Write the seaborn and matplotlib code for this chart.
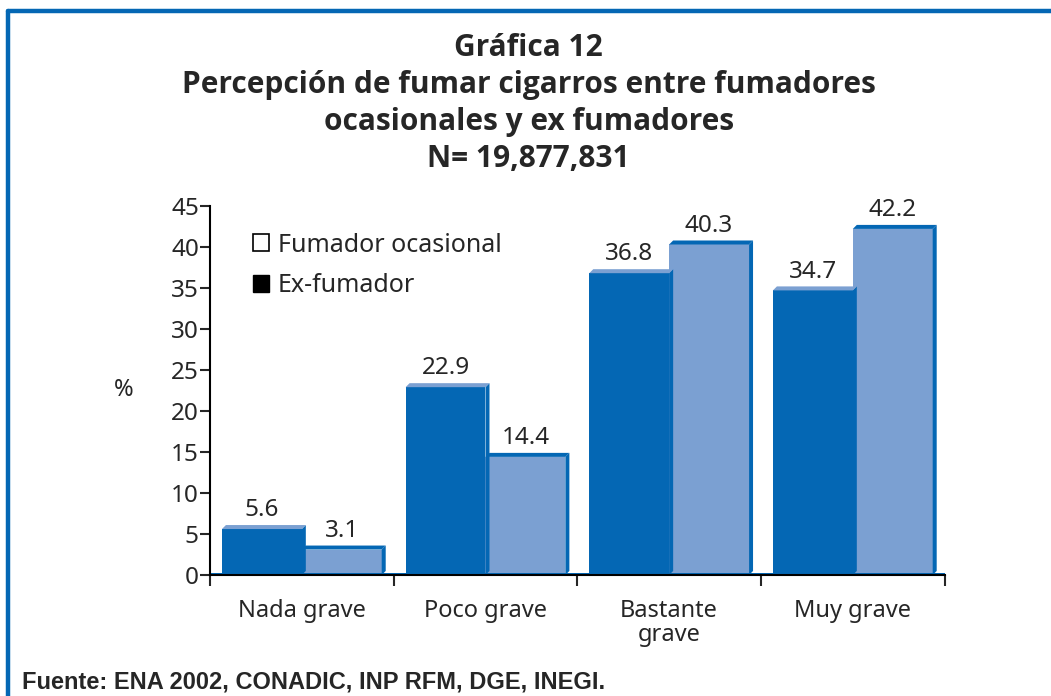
import pandas as pd
import numpy as np
import seaborn as sns
import matplotlib.pyplot as plt
from matplotlib.patches import Polygon, Patch
from matplotlib.lines import Line2D

# --- data ---
categories = ['Nada grave', 'Poco grave', 'Bastante\ngrave', 'Muy grave']
series_names = ['Fumador ocasional', 'Ex-fumador']
ocasional = [5.6, 22.9, 36.8, 34.7]
ex_fumador = [3.1, 14.4, 40.3, 42.2]

df = pd.DataFrame({
    'categoria': categories * 2,
    'grupo': [series_names[0]] * 4 + [series_names[1]] * 4,
    'pct': ocasional + ex_fumador,
})

dark = '#0467B4'
light = '#7BA0D2'

sns.set_style('white')
plt.rcParams['font.family'] = ['Noto Sans', 'DejaVu Sans']

fig = plt.figure(figsize=(10.51, 6.96), dpi=100)
ax = fig.add_axes([0.1998, 0.1739, 0.6990, 0.5302])

sns.barplot(data=df, x='categoria', y='pct', hue='grupo', hue_order=series_names,
            palette=[dark, light], width=0.87, saturation=1, linewidth=0,
            legend=False, ax=ax)

ax.set_xlim(-0.5, 3.5)
ax.set_ylim(0, 45)
ax.set_yticks(np.arange(0, 46, 5))
ax.tick_params(axis='y', direction='out', length=7, width=1.5, labelsize=17.5, pad=1, left=True)
ax.tick_params(axis='x', which='major', length=0, labelsize=17, pad=17)
ax.set_xticks(np.arange(-0.5, 4, 1), minor=True)
ax.tick_params(axis='x', which='minor', direction='out', length=8, width=1.5, bottom=True)
ax.set_xlabel('')
ax.set_ylabel('%', rotation=0, fontsize=17, labelpad=34, va='center')
for s in ['top', 'right']:
    ax.spines[s].set_visible(False)
for s in ['left', 'bottom']:
    ax.spines[s].set_color('black')
    ax.spines[s].set_linewidth(1.5)
for lbl in ax.get_xticklabels():
    lbl.set_linespacing(1.05)

# 3D-like depth on each bar, computed from the bar geometry
fig.canvas.draw()
bbox = ax.get_window_extent()
dx = 4 / bbox.width * 4.0
dy = 4 / bbox.height * 45.0
for i, bar in enumerate(ax.patches):
    x0, w, h = bar.get_x(), bar.get_width(), bar.get_height()
    x1 = x0 + w
    is_dark = i < len(categories)
    top_col = light if is_dark else dark
    top = Polygon([(x0, h), (x1, h), (x1 + dx, h + dy), (x0 + dx, h + dy)],
                  closed=True, facecolor=top_col, edgecolor='none', zorder=3)
    side = Polygon([(x1, 0), (x1, h), (x1 + dx, h + dy), (x1 + dx, dy)],
                   closed=True, facecolor=dark, edgecolor='none', zorder=2.5)
    ax.add_patch(side)
    ax.add_patch(top)
    ax.annotate(f'{h:.1f}', (x0 + w / 2, h + dy), xytext=(0, 2), textcoords='offset points',
                ha='center', va='bottom', fontsize=17.5)

# floor strip along the base
ax.add_patch(Polygon([(-0.5, 0), (3.5, 0), (3.5, dy * 0.6), (-0.5, dy * 0.6)],
                     closed=True, facecolor=dark, edgecolor='none', zorder=1))

handles = [Patch(facecolor='white', edgecolor='black', linewidth=1.2),
           Patch(facecolor='black', edgecolor='black')]
ax.legend(handles, series_names, loc='upper left', bbox_to_anchor=(0.045, 0.955),
          frameon=False, fontsize=18, handlelength=0.65, handleheight=0.65,
          handletextpad=0.35, labelspacing=0.62, borderaxespad=0)

fig.text(0.503, 0.952, 'Gráfica 12\nPercepción de fumar cigarros entre fumadores\n'
         'ocasionales y ex fumadores\nN= 19,877,831',
         ha='center', va='top', fontsize=21.5, fontweight='bold', family='Open Sans',
         linespacing=1.3)

fig.text(0.021, 0.004, 'Fuente: ENA 2002, CONADIC, INP RFM, DGE, INEGI.',
         family='Liberation Sans', fontweight='bold', fontsize=17, ha='left', va='bottom')

# blue frame on top and left
fig.add_artist(Line2D([0.0075, 1.0], [0.984, 0.984], color=dark, lw=3.2))
fig.add_artist(Line2D([0.0075, 0.0075], [0.0, 0.984], color=dark, lw=3.2))

fig.savefig('out.png', dpi=100)
